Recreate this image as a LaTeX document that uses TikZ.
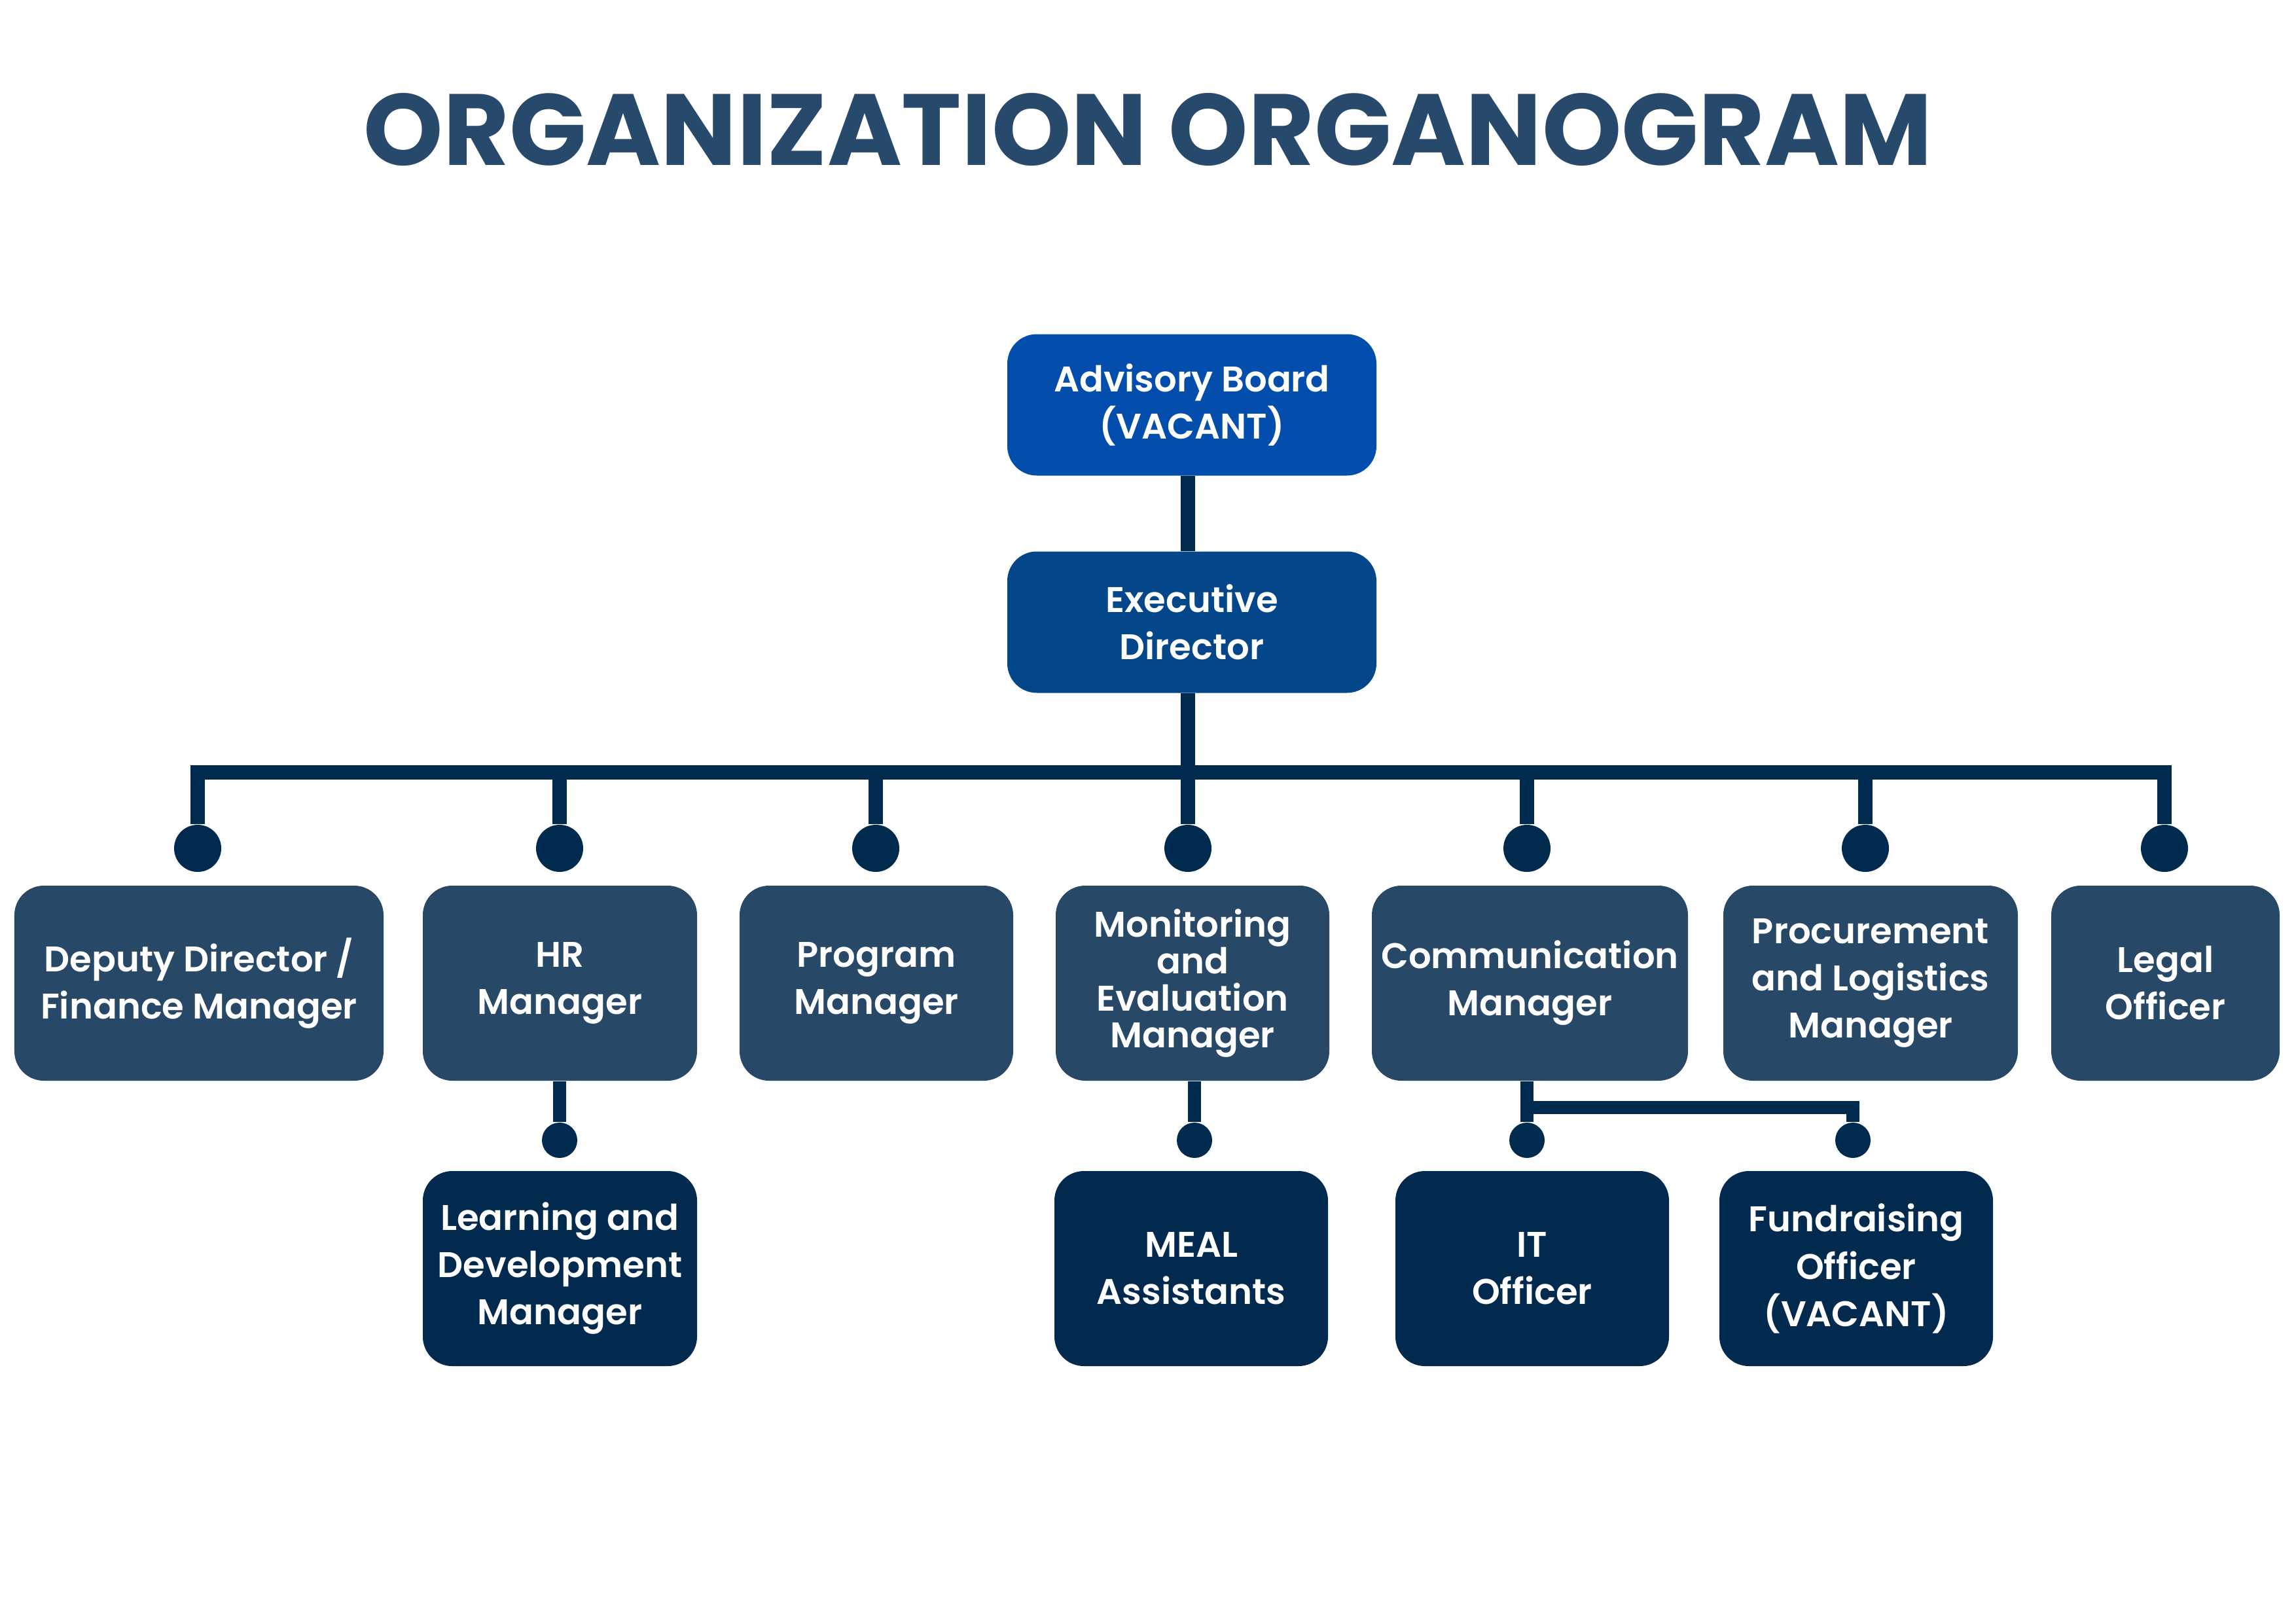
\documentclass[tikz,border=0pt]{standalone}
\usepackage{fontspec}
\setmainfont{Poppins}[BoldFont={Poppins SemiBold}]
\newfontfamily\headfont{Poppins}[UprightFont={* Bold}]
\usetikzlibrary{positioning, calc}
\definecolor{Title}{HTML}{27496B}
\definecolor{Board}{HTML}{034EAC}
\definecolor{Exec}{HTML}{03478A}
\definecolor{Mid}{HTML}{284868}
\definecolor{Deep}{HTML}{022A4E}
\definecolor{Wire}{HTML}{012B4E}
\tikzset{
    rolebox/.style={rectangle, rounded corners=0.45cm, text=white, align=center, inner sep=0pt, minimum height=2.98cm, font=\bfseries\fontsize{15.5}{20.5}\selectfont},
    topbox/.style={rolebox, minimum width=5.64cm, minimum height=2.16cm},
    midbox/.style={rolebox, fill=Mid},
    lowbox/.style={rolebox, fill=Deep, minimum width=4.18cm},
    link/.style={draw=Wire, line width=0.22cm},
    sublink/.style={draw=Wire, line width=0.2cm},
    bigdot/.style={circle, fill=Wire, inner sep=0pt, minimum size=0.72cm},
    smalldot/.style={circle, fill=Wire, inner sep=0pt, minimum size=0.54cm},
}

\begin{document}
\begin{tikzpicture}
    % Pagina
    \fill[white] (0,0) rectangle (35.08,-24.80);
    \useasboundingbox (0,0) rectangle (35.08,-24.80);

    % --- TITOLO ---
    \node[anchor=base, text=Title, font=\headfont\fontsize{44}{50}\selectfont] (title) at (17.54,-2.53) {ORGANIZATION ORGANOGRAM};

    % --- VERTICE ---
    \node[topbox, fill=Board] (board) at (18.21,-6.185) {Advisory Board\\(VACANT)};
    \node[topbox, fill=Exec] (exec) at (18.21,-9.505) {Executive\\Director};

    % --- MANAGER ---
    \node[midbox, minimum width=5.64cm] (deputy) at (3.04,-15.02) {Deputy Director /\\Finance Manager};
    \node[midbox, minimum width=4.19cm] (hr) at (8.555,-15.02) {HR\\Manager};
    \node[midbox, minimum width=4.18cm] (program) at (13.39,-15.02) {Program\\Manager};
    \node[midbox, minimum width=4.18cm, font=\bfseries\fontsize{15.5}{16}\selectfont] (monitor) at (18.22,-15.02) {Monitoring\\and\\Evaluation\\Manager};
    \node[midbox, minimum width=4.83cm] (comm) at (23.375,-15.02) {Communication\\Manager};
    \node[midbox, minimum width=4.50cm] (procure) at (28.58,-15.02) {Procurement\\and Logistics\\Manager};
    \node[midbox, minimum width=3.49cm] (legal) at (33.085,-15.02) {Legal\\Officer};

    % --- STAFF ---
    \node[lowbox, minimum width=4.19cm] (learn) at (8.555,-19.38) {Learning and\\Development\\Manager};
    \node[lowbox] (meal) at (18.20,-19.38) {MEAL\\Assistants};
    \node[lowbox] (itoff) at (23.41,-19.38) {IT\\Officer};
    \node[lowbox] (fund) at (28.36,-19.38) {Fundraising\\Officer\\(VACANT)};

    % Pallini
    \foreach \name/\x in {dDep/3.02, dHr/8.55, dProg/13.38, dMon/18.15, dComm/23.33, dProc/28.50, dLeg/33.07}
        \node[bigdot] (\name) at (\x,-12.96) {};
    \foreach \name/\x in {sHr/8.55, sMeal/18.25, sIt/23.33, sFund/28.31}
        \node[smalldot] (\name) at (\x,-17.42) {};

    % Collegamenti
    \coordinate (bus) at (0,-11.80);
    \coordinate (fork) at (0,-16.92);
    \draw[link] (board.south -| dMon) -- (exec.north -| dMon);
    \draw[link] (exec.south -| dMon) -- (dMon);
    \draw[link] (dDep) -- (dDep |- bus) -- (dLeg |- bus) -- (dLeg);
    \foreach \d in {dHr, dProg, dComm, dProc}
        \draw[link] (\d |- bus) -- (\d);

    \draw[sublink] (hr.south -| sHr) -- (sHr);
    \draw[sublink] (monitor.south -| sMeal) -- (sMeal);
    \draw[sublink] (comm.south -| sIt) -- (sIt);
    \draw[sublink] (sIt |- fork) -- (sFund |- fork) -- (sFund);
\end{tikzpicture}
\end{document}
